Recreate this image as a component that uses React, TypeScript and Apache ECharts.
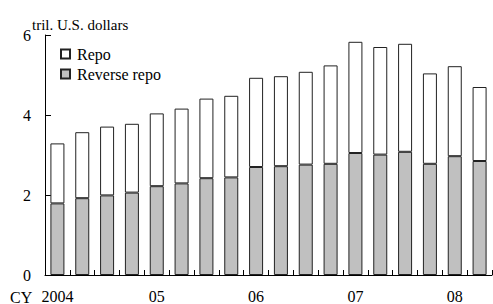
import React, { useEffect, useRef } from "react";
import * as echarts from "echarts";

const categories = [
  "2004Q1", "2004Q2", "2004Q3", "2004Q4",
  "2005Q1", "2005Q2", "2005Q3", "2005Q4",
  "2006Q1", "2006Q2", "2006Q3", "2006Q4",
  "2007Q1", "2007Q2", "2007Q3",
  "2008Q1", "2008Q2", "2008Q3",
];
const yearLabels: Record<number, string> = { 0: "2004", 4: "05", 8: "06", 12: "07", 16: "08" };
const reverseRepo = [1.79, 1.92, 1.99, 2.06, 2.22, 2.29, 2.42, 2.44, 2.70, 2.72, 2.76, 2.78, 3.05, 3.01, 3.08, 2.78, 2.97, 2.85];
const repo = [1.50, 1.65, 1.72, 1.72, 1.82, 1.87, 1.99, 2.04, 2.23, 2.25, 2.32, 2.46, 2.78, 2.69, 2.70, 2.26, 2.25, 1.85];
const yTicks = { min: 0, max: 6, interval: 2 };

const FONT = "'Liberation Serif', 'Times New Roman', serif";

export default function App() {
  const ref = useRef<HTMLDivElement>(null);
  useEffect(() => {
    if (!ref.current) return;
    document.body.style.margin = "0";
    const chart = echarts.init(ref.current, undefined, { renderer: "svg" });
    chart.setOption({
      animation: false,
      grid: { left: 45, right: 1, top: 35, bottom: 29, containLabel: false },
      legend: {
        orient: "vertical",
        left: 60,
        top: 46,
        padding: 0,
        itemWidth: 9,
        itemHeight: 9,
        itemGap: 4,
        icon: "rect",
        data: ["Repo", "Reverse repo"],
        textStyle: { fontFamily: FONT, fontSize: 16, color: "#000", lineHeight: 16, padding: [0, 0, 0, 2] },
      },
      xAxis: {
        type: "category",
        data: categories,
        axisLine: { show: true, lineStyle: { color: "#000", width: 1 } },
        axisTick: { show: true, inside: true, length: 5, interval: 0, alignWithLabel: false, lineStyle: { color: "#000" } },
        axisLabel: {
          interval: 0,
          margin: 13,
          fontFamily: FONT,
          fontSize: 16,
          color: "#000",
          formatter: (_v: string, i: number) => yearLabels[i] ?? "",
        },
        splitLine: { show: false },
      },
      yAxis: {
        type: "value",
        min: yTicks.min,
        max: yTicks.max,
        interval: yTicks.interval,
        axisLine: { show: true, lineStyle: { color: "#000", width: 1 } },
        axisTick: { show: true, inside: true, length: 6, lineStyle: { color: "#000" } },
        axisLabel: { margin: 14, fontFamily: FONT, fontSize: 16, lineHeight: 12, color: "#000" },
        splitLine: { show: false },
      },
      series: [
        {
          name: "Reverse repo",
          type: "bar",
          stack: "total",
          barWidth: 14,
          data: reverseRepo,
          itemStyle: { color: "#c0c0c0", borderColor: "#222", borderWidth: 1 },
        },
        {
          name: "Repo",
          type: "bar",
          stack: "total",
          barWidth: 14,
          data: repo,
          itemStyle: { color: "#ffffff", borderColor: "#222", borderWidth: 1 },
        },
      ],
      graphic: [
        {
          type: "text",
          left: 32,
          top: 17,
          style: { text: "tril. U.S. dollars", fontFamily: FONT, fontSize: 15, lineHeight: 11, fill: "#000" },
        },
        {
          type: "text",
          left: 10,
          top: 289,
          style: { text: "CY", fontFamily: FONT, fontSize: 16, fill: "#000" },
        },
      ],
    });
    return () => chart.dispose();
  }, []);
  return <div ref={ref} style={{ width: 493, height: 304 }} />;
}
